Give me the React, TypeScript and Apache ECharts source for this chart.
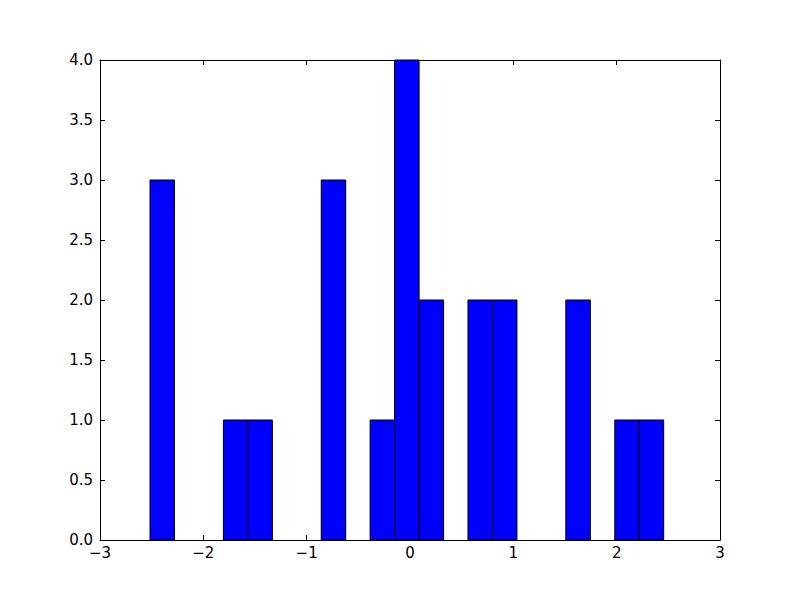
import React, { useEffect, useRef } from "react";
import * as echarts from "echarts";

// Histogram bins (only the non-empty ones): left edge, right edge, count
const binLefts = [-2.516, -1.806, -1.569, -0.859, -0.386, -0.149, 0.088, 0.561, 0.798, 1.508, 1.982, 2.218];
const binRights = [-2.279, -1.569, -1.332, -0.622, -0.149, 0.088, 0.325, 0.798, 1.035, 1.745, 2.218, 2.455];
const counts = [3, 1, 1, 3, 1, 4, 2, 2, 2, 2, 1, 1];

const xTicks = [-3, -2, -1, 0, 1, 2, 3];
const yTicks = [0, 0.5, 1, 1.5, 2, 2.5, 3, 3.5, 4];

const fmtX = (v: number) => String(v).replace("-", "\u2212");
const fmtY = (v: number) => v.toFixed(1);

export default function App() {
  const ref = useRef<HTMLDivElement>(null);
  useEffect(() => {
    if (!ref.current) return;
    const chart = echarts.init(ref.current, null, { renderer: "svg" });
    const font = "DejaVu Sans";
    const axisCommon = {
      axisLine: { show: true, onZero: false, lineStyle: { color: "#000", width: 1 } },
      axisTick: { show: true, inside: true, length: 5, lineStyle: { color: "#000", width: 1 } },
      splitLine: { show: false },
    };
    const data = binLefts.map((l, i) => [l, binRights[i], counts[i]]);
    chart.setOption({
      animation: false,
      backgroundColor: "#fff",
      grid: { left: 100, right: 80, top: 60, bottom: 60, containLabel: false },
      xAxis: [
        {
          type: "value",
          min: xTicks[0],
          max: xTicks[xTicks.length - 1],
          interval: 1,
          position: "bottom",
          ...axisCommon,
          axisLabel: { show: true, color: "#000", fontFamily: font, fontSize: 15, margin: 5, formatter: fmtX },
        },
        {
          type: "value",
          min: xTicks[0],
          max: xTicks[xTicks.length - 1],
          interval: 1,
          position: "top",
          ...axisCommon,
          axisLabel: { show: false },
        },
      ],
      yAxis: [
        {
          type: "value",
          min: yTicks[0],
          max: yTicks[yTicks.length - 1],
          interval: 0.5,
          position: "left",
          ...axisCommon,
          axisLabel: { show: true, color: "#000", fontFamily: font, fontSize: 15, margin: 7, formatter: fmtY },
        },
        {
          type: "value",
          min: yTicks[0],
          max: yTicks[yTicks.length - 1],
          interval: 0.5,
          position: "right",
          ...axisCommon,
          axisLabel: { show: false },
        },
      ],
      series: [
        {
          type: "custom",
          xAxisIndex: 0,
          yAxisIndex: 0,
          data,
          encode: { x: [0, 1], y: 2 },
          renderItem: (params: any, api: any) => {
            const l = api.value(0);
            const r = api.value(1);
            const c = api.value(2);
            const p0 = api.coord([l, c]);
            const p1 = api.coord([r, 0]);
            return {
              type: "rect",
              shape: { x: p0[0], y: p0[1], width: p1[0] - p0[0], height: p1[1] - p0[1] },
              style: { fill: "#0000ff", stroke: "#000", lineWidth: 1 },
            };
          },
        },
      ],
    });
    return () => chart.dispose();
  }, []);
  return <div ref={ref} style={{ position: "fixed", left: 0, top: 0, width: 800, height: 600 }} />;
}
